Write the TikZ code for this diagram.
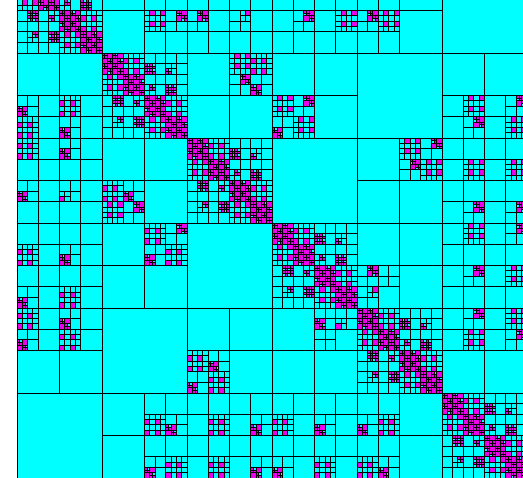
\documentclass[tikz,border=0pt]{standalone}
\definecolor{hcyan}{RGB}{0,255,255}
\definecolor{hmag}{RGB}{235,0,235}
\newif\ifqtrans
\newif\ifqhalf
\def\Keta{25}
\def\SIMmax{5}
% leaves (coordinates in 1/64 pt, y downward)
\def\LeafC#1#2#3{\pgfpathrectangle{\pgfqpoint{\dimexpr#1sp*1024\relax}{\dimexpr-#2sp*1024\relax}}{\pgfqpoint{\dimexpr#3sp*1024\relax}{\dimexpr-#3sp*1024\relax}}\pgfusepath{stroke}}
\def\LeafM#1#2#3{\pgfpathrectangle{\pgfqpoint{\dimexpr#1sp*1024\relax}{\dimexpr-#2sp*1024\relax}}{\pgfqpoint{\dimexpr#3sp*1024\relax}{\dimexpr-#3sp*1024\relax}}\pgfusepath{fill,stroke}}
% admissibility simulation
\def\SIMs#1/#2/#3/#4\relax{\def\qSX{#1}\def\qSY{#2}\def\qSW{#3}\def\qSH{#4}}
\def\SIMt#1/#2/#3/#4\relax{\def\qTX{#1}\def\qTY{#2}\def\qTW{#3}\def\qTH{#4}}
\def\SIM#1#2#3#4#5#6{\begingroup
 \ifnum#4=\SIMmax\relax\def\Keta{16}\fi
 \SIMs#5\relax\SIMt#6\relax
 \edef\qA{\the\numexpr\qSX-\qTX-\qTW\relax}%
 \edef\qB{\the\numexpr\qTX-\qSX-\qSW\relax}%
 \ifnum\qB>\qA\relax\let\qA\qB\fi
 \ifnum\qA<0\relax\def\qA{0}\fi
 \edef\qC{\the\numexpr\qSY-\qTY-\qTH\relax}%
 \edef\qD{\the\numexpr\qTY-\qSY-\qSH\relax}%
 \ifnum\qD>\qC\relax\let\qC\qD\fi
 \ifnum\qC<0\relax\def\qC{0}\fi
 \edef\qDist{\the\numexpr\qA*\qA+\qC*\qC\relax}%
 \edef\qDiam{\the\numexpr\qSW*\qSW+\qSH*\qSH\relax}%
 \ifnum\numexpr4*\qDiam\relax>\numexpr\Keta*\qDist\relax
   \ifnum#4<\SIMmax\relax
     \def\qNext{\SIMsplit{#1}{#2}{#3}{#4}}%
     \ifnum#4=\numexpr\SIMmax-1\relax
       \edef\qF{\the\numexpr\qTX-\qSX\relax}%
       \ifnum\qF<0\relax\edef\qF{\the\numexpr0-\qF\relax}\fi
       \edef\qG{\the\numexpr(\qSW/2)*(\qSW/2)+\qSH*\qSH\relax}%
       \ifnum\numexpr4*\qG\relax>\numexpr16*(\qF*\qF+\qC*\qC)\relax
         \ifnum\qSX=\qTX\relax
           \ifnum\qSY=\qTY\relax\else\def\qNext{\LeafM{#1}{#2}{#3}}\fi
         \else\def\qNext{\LeafM{#1}{#2}{#3}}\fi
       \fi
       \ifqhalf
         \edef\qHs{\ifnum\qSX<32 0\else 1\fi}%
         \edef\qHt{\ifnum\qTX<32 0\else 1\fi}%
       \else
         \def\qHs{0}\def\qHt{0}%
       \fi
       \ifnum\qSY=\qTY\relax\else
         \ifnum\qHs=\qHt\relax\def\qNext{\LeafM{#1}{#2}{#3}}\fi
       \fi
     \fi
   \else
     \def\qNext{\LeafM{#1}{#2}{#3}}%
   \fi
 \else
   \def\qNext{\LeafC{#1}{#2}{#3}}%
 \fi
 \qNext\endgroup}
\def\SIMsplit#1#2#3#4{%
 \edef\qH{\the\numexpr#3/2\relax}%
 \edef\qXX{\the\numexpr#1+\qH\relax}%
 \edef\qYY{\the\numexpr#2+\qH\relax}%
 \edef\qL{\the\numexpr#4+1\relax}%
 \ifodd#4\relax
   \edef\qW{\the\numexpr\qSH/2\relax}%
   \edef\qSa{\qSX/\qSY/\qSW/\qW}%
   \edef\qSb{\qSX/\the\numexpr\qSY+\qW\relax/\qSW/\qW}%
   \edef\qW{\the\numexpr\qTH/2\relax}%
   \edef\qTa{\qTX/\qTY/\qTW/\qW}%
   \edef\qTb{\qTX/\the\numexpr\qTY+\qW\relax/\qTW/\qW}%
 \else
   \edef\qW{\the\numexpr\qSW/2\relax}%
   \edef\qSa{\qSX/\qSY/\qW/\qSH}%
   \edef\qSb{\the\numexpr\qSX+\qW\relax/\qSY/\qW/\qSH}%
   \edef\qW{\the\numexpr\qTW/2\relax}%
   \edef\qTa{\qTX/\qTY/\qW/\qTH}%
   \edef\qTb{\the\numexpr\qTX+\qW\relax/\qTY/\qW/\qTH}%
 \fi
 \edef\qCalls{%
  \noexpand\SIM{#1}{#2}{\qH}{\qL}{\qSa}{\qTa}%
  \noexpand\SIM{\qXX}{#2}{\qH}{\qL}{\qSa}{\qTb}%
  \noexpand\SIM{#1}{\qYY}{\qH}{\qL}{\qSb}{\qTa}%
  \noexpand\SIM{\qXX}{\qYY}{\qH}{\qL}{\qSb}{\qTb}}%
 \qCalls}
% quadtree codes
\def\QT#1#2#3#4{\begingroup\def\qPX{#1}\def\qPY{#2}\def\qSZ{#3}\QTdo#4\QTend\endgroup}
\def\QTdo#1{\csname QTx#1\endcsname}
\def\QTxc#1\QTend{\LeafC{\qPX}{\qPY}{\qSZ}}
\def\QTxm#1\QTend{\LeafM{\qPX}{\qPY}{\qSZ}}
\def\QTxq#1#2#3#4#5\QTend{%
 \edef\qH{\the\numexpr\qSZ/2\relax}%
 \edef\qXX{\the\numexpr\qPX+\qH\relax}%
 \edef\qYY{\the\numexpr\qPY+\qH\relax}%
 \edef\qtmp{\noexpand\QT{\qPX}{\qPY}{\qH}}\qtmp{#1}%
 \ifqtrans
   \edef\qtmp{\noexpand\QT{\qPX}{\qYY}{\qH}}\qtmp{#2}%
   \edef\qtmp{\noexpand\QT{\qXX}{\qPY}{\qH}}\qtmp{#3}%
 \else
   \edef\qtmp{\noexpand\QT{\qXX}{\qPY}{\qH}}\qtmp{#2}%
   \edef\qtmp{\noexpand\QT{\qPX}{\qYY}{\qH}}\qtmp{#3}%
 \fi
 \edef\qtmp{\noexpand\QT{\qXX}{\qYY}{\qH}}\qtmp{#4}}
\def\QTpatch#1#2{%
 \qhalffalse
 \ifqtrans
   \edef\qtmp{\noexpand\SIM{\qPX}{\qPY}{\qSZ}{2}{0/0/32/32}{\the\numexpr0-(#1)\relax/\the\numexpr0-(#2)\relax/32/32}}%
 \else
   \edef\qtmp{\noexpand\SIM{\qPX}{\qPY}{\qSZ}{2}{0/0/32/32}{#1/#2/32/32}}%
 \fi\qtmp}
\def\QTxr#1\QTend{\QTpatch{32}{0}}
\def\QTxl#1\QTend{\QTpatch{-32}{0}}
\def\QTxd#1\QTend{\QTpatch{0}{32}}
\def\QTxu#1\QTend{\QTpatch{0}{-32}}
\def\QTxx#1\QTend{\QTpatch{32}{32}}
\def\QTxy#1\QTend{\QTpatch{-32}{-32}}
\def\QTxz#1\QTend{\QTpatch{32}{-32}}
\def\QTxw#1\QTend{\QTpatch{-32}{32}}
% one-unit cell (row,col) in lower triangle and its mirror
\def\U#1#2#3{%
 \qtransfalse
 \edef\qtmp{\noexpand\QT{\the\numexpr1088+2720*#2\relax}{\the\numexpr-2048+2720*#1\relax}{2720}}\qtmp{#3}%
 \qtranstrue
 \edef\qtmp{\noexpand\QT{\the\numexpr1088+2720*#1\relax}{\the\numexpr-2048+2720*#2\relax}{2720}}\qtmp{#3}%
 \qtransfalse}
\def\OPP#1#2{\edef\qtmp{\noexpand\LeafC{\the\numexpr1088+5440*#2\relax}{\the\numexpr-2048+5440*#1\relax}{5440}}\qtmp
 \edef\qtmp{\noexpand\LeafC{\the\numexpr1088+5440*#1\relax}{\the\numexpr-2048+5440*#2\relax}{5440}}\qtmp}
\def\DIAG#1{\qhalftrue\edef\qtmp{\noexpand\SIM{\the\numexpr1088+5440*#1\relax}{\the\numexpr-2048+5440*#1\relax}{5440}{0}{0/0/64/64}{0/0/64/64}}\qtmp\qhalffalse}
\begin{document}
\begin{tikzpicture}
\useasboundingbox (0pt,0pt) rectangle (523pt,-478pt);
\clip (0pt,0pt) rectangle (523pt,-478pt);
\fill[white] (0pt,0pt) rectangle (523pt,-478pt);
\fill[hcyan] (17pt,32pt) rectangle (527pt,-478pt);
\pgfsetfillcolor{hmag}
\pgfsetstrokecolor{black}
\pgfsetlinewidth{0.9pt}
% far (opposite) object pairs
\OPP{5}{0}\OPP{4}{1}\OPP{3}{2}
% diagonal object blocks
\DIAG{0}\DIAG{1}\DIAG{2}\DIAG{3}\DIAG{4}\DIAG{5}
% off-diagonal near pairs (lower triangle, mirrored)
\U{2}{0}{c}\U{2}{1}{c}\U{3}{0}{q{r}{c}{d}{c}}\U{3}{1}{q{d}{c}{r}{c}}
\U{4}{0}{q{d}{c}{c}{c}}\U{4}{1}{q{r}{c}{c}{c}}\U{5}{0}{q{r}{c}{c}{c}}\U{5}{1}{q{x}{c}{c}{c}}
\U{4}{2}{c}\U{4}{3}{c}\U{5}{2}{q{d}{r}{u}{l}}\U{5}{3}{c}
\U{6}{0}{q{c}{c}{d}{c}}\U{6}{1}{q{c}{c}{r}{c}}\U{7}{0}{q{c}{c}{r}{c}}\U{7}{1}{q{c}{c}{d}{c}}
\U{6}{2}{c}\U{6}{3}{q{d}{l}{r}{d}}\U{7}{2}{c}\U{7}{3}{c}
\U{8}{0}{q{d}{c}{r}{c}}\U{8}{1}{q{r}{c}{d}{c}}\U{9}{0}{c}\U{9}{1}{c}
\U{8}{4}{c}\U{8}{5}{c}\U{9}{4}{q{d}{r}{r}{d}}\U{9}{5}{c}
\U{8}{6}{c}\U{8}{7}{q{r}{x}{q{c}{c}{c}{c}}{c}}\U{9}{6}{c}\U{9}{7}{c}
\U{10}{2}{c}\U{10}{3}{q{c}{c}{d}{r}}\U{11}{2}{c}\U{11}{3}{q{c}{c}{r}{d}}
\U{10}{4}{q{c}{c}{c}{d}}\U{10}{5}{q{c}{c}{c}{r}}\U{11}{4}{q{c}{c}{c}{d}}\U{11}{5}{q{c}{c}{c}{r}}
\U{10}{6}{q{c}{c}{d}{c}}\U{10}{7}{q{c}{c}{r}{c}}\U{11}{6}{q{c}{c}{r}{c}}\U{11}{7}{q{c}{c}{d}{c}}
\U{10}{8}{q{c}{c}{r}{d}}\U{10}{9}{c}\U{11}{8}{q{c}{c}{d}{r}}\U{11}{9}{c}
\end{tikzpicture}
\end{document}
